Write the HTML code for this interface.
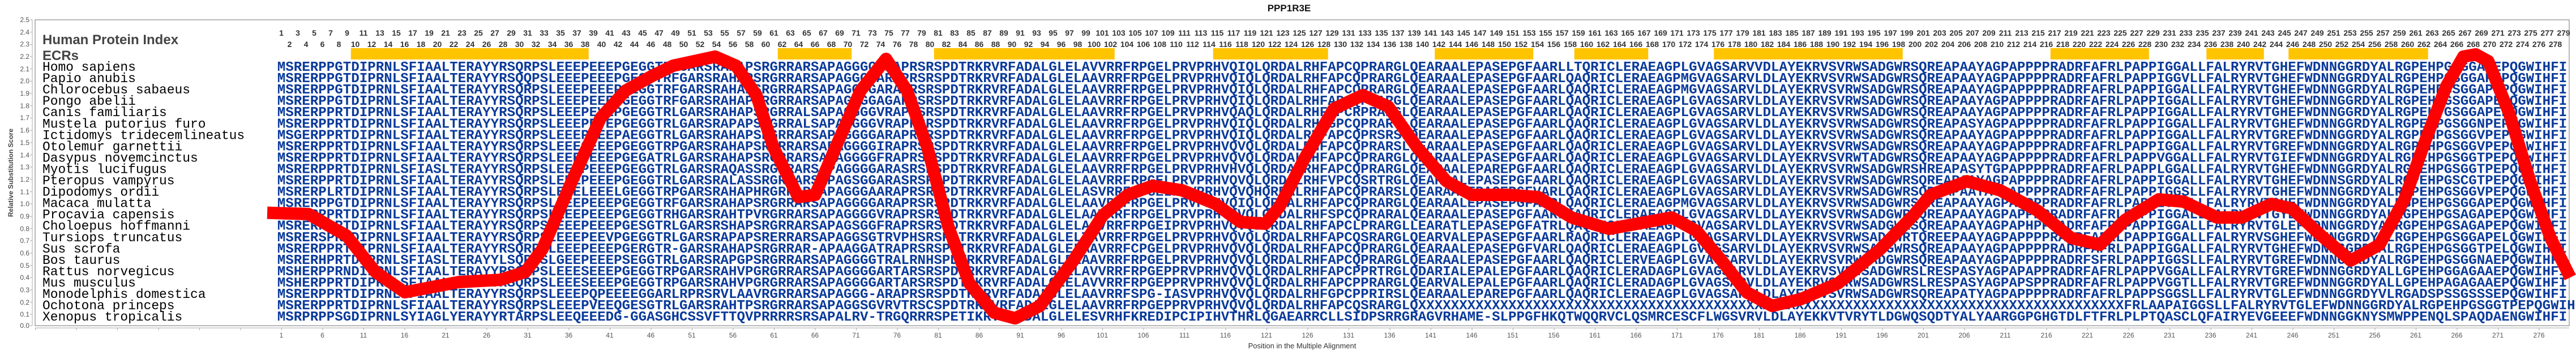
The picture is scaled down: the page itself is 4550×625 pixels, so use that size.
<!DOCTYPE html>
<html><head><meta charset="utf-8"><style>
html,body{margin:0;padding:0;background:#fff;}
#w{position:relative;width:4550px;height:625px;overflow:hidden;font-family:"Liberation Sans",sans-serif;}
.nr{position:absolute;white-space:nowrap;font-weight:bold;font-size:14px;color:#333;line-height:16px;}
.nr b{display:inline-block;width:29px;text-align:center;}
.bx{position:absolute;white-space:nowrap;font-size:12px;color:#555;top:585px;left:460.75px;line-height:14px;}
.bx b{display:inline-block;width:72.5px;text-align:center;font-weight:normal;}
.yl{position:absolute;left:20px;width:32px;text-align:right;font-size:12px;color:#555;line-height:14px;}
svg{position:absolute;left:0;top:0;}
</style></head><body><div id="w">
<svg width="4550" height="625" xmlns="http://www.w3.org/2000/svg">
<rect x="62" y="35" width="4476" height="540" fill="none" stroke="#888" stroke-width="1.2"/>
<line x1="57" y1="35" x2="57" y2="575" stroke="#aaa" stroke-width="1"/>
<g stroke="#aaa" stroke-width="1">
<line x1="53" y1="35" x2="57" y2="35"/><line x1="53" y1="56.7" x2="57" y2="56.7"/><line x1="53" y1="78.4" x2="57" y2="78.4"/><line x1="53" y1="100" x2="57" y2="100"/><line x1="53" y1="121.7" x2="57" y2="121.7"/><line x1="53" y1="143.4" x2="57" y2="143.4"/><line x1="53" y1="165" x2="57" y2="165"/><line x1="53" y1="186.8" x2="57" y2="186.8"/><line x1="53" y1="208.4" x2="57" y2="208.4"/><line x1="53" y1="230" x2="57" y2="230"/><line x1="53" y1="251.8" x2="57" y2="251.8"/><line x1="53" y1="273.5" x2="57" y2="273.5"/><line x1="53" y1="295" x2="57" y2="295"/><line x1="53" y1="316.8" x2="57" y2="316.8"/><line x1="53" y1="338.5" x2="57" y2="338.5"/><line x1="53" y1="360" x2="57" y2="360"/><line x1="53" y1="382" x2="57" y2="382"/><line x1="53" y1="403.5" x2="57" y2="403.5"/><line x1="53" y1="425" x2="57" y2="425"/><line x1="53" y1="447" x2="57" y2="447"/><line x1="53" y1="468.6" x2="57" y2="468.6"/><line x1="53" y1="490" x2="57" y2="490"/><line x1="53" y1="512" x2="57" y2="512"/><line x1="53" y1="533.6" x2="57" y2="533.6"/><line x1="53" y1="555" x2="57" y2="555"/><line x1="53" y1="575" x2="57" y2="575"/>
</g>
<line x1="62" y1="579" x2="4538" y2="579" stroke="#aaa" stroke-width="1"/>
<rect x="62" y="579" width="4476" height="4" fill="url(#tk)"/>
<defs><pattern id="tk" x="62" y="579" width="72.5" height="4" patternUnits="userSpaceOnUse"><rect x="0" y="0" width="1" height="4" fill="#aaa"/></pattern></defs>
<text x="2277" y="20" text-anchor="middle" font-family="Liberation Sans" font-weight="bold" font-size="17" fill="#111">PPP1R3E</text>
<text x="2300" y="615" text-anchor="middle" font-family="Liberation Sans" font-size="13" fill="#333">Position in the Multiple Alignment</text>
<text transform="translate(23,305) rotate(-90)" text-anchor="middle" font-family="Liberation Sans" font-weight="bold" font-size="12" fill="#444">Relative Substitution Score</text>
<text x="75" y="78" font-family="Liberation Sans" font-weight="bold" font-size="24" fill="#444">Human Protein Index</text>
<text x="75" y="106" font-family="Liberation Sans" font-weight="bold" font-size="24" fill="#444">ECRs</text>
<g fill="#ffc400">
<rect x="619.75" y="85" width="420" height="20"/>
<rect x="1373.75" y="85" width="130.5" height="20"/>
<rect x="1649.75" y="85" width="319" height="20"/>
<rect x="2142.75" y="85" width="203" height="20"/>
<rect x="2534.25" y="85" width="174" height="20"/>
<rect x="2780.75" y="85" width="130.5" height="20"/>
<rect x="3027.25" y="85" width="333.5" height="20"/>
<rect x="3621.75" y="85" width="174" height="20"/>
<rect x="3897.25" y="85" width="101.5" height="20"/>
<rect x="4042.25" y="85" width="246.5" height="20"/>
</g>
<g font-family="Liberation Mono" font-size="22.9" fill="#000">
<text x="75" y="125">Homo sapiens</text>
<text x="75" y="145.05">Papio anubis</text>
<text x="75" y="165.1">Chlorocebus sabaeus</text>
<text x="75" y="185.15">Pongo abelii</text>
<text x="75" y="205.2">Canis familiaris</text>
<text x="75" y="225.25">Mustela putorius furo</text>
<text x="75" y="245.3">Ictidomys tridecemlineatus</text>
<text x="75" y="265.35">Otolemur garnettii</text>
<text x="75" y="285.4">Dasypus novemcinctus</text>
<text x="75" y="305.45">Myotis lucifugus</text>
<text x="75" y="325.5">Pteropus vampyrus</text>
<text x="75" y="345.55">Dipodomys ordii</text>
<text x="75" y="365.6">Macaca mulatta</text>
<text x="75" y="385.65">Procavia capensis</text>
<text x="75" y="405.7">Choloepus hoffmanni</text>
<text x="75" y="425.75">Tursiops truncatus</text>
<text x="75" y="445.8">Sus scrofa</text>
<text x="75" y="465.85">Bos taurus</text>
<text x="75" y="485.9">Rattus norvegicus</text>
<text x="75" y="505.95">Mus musculus</text>
<text x="75" y="526">Monodelphis domestica</text>
<text x="75" y="546.05">Ochotona princeps</text>
<text x="75" y="566.1">Xenopus tropicalis</text>
</g>
<g font-family="Liberation Mono" font-weight="bold" font-size="24.17" fill="#0a3a9a">
<text x="489.75" y="125">MSRERPPGTDIPRNLSFIAALTERAYYRSQRPSLEEEPEEEPGEGGTRFGARSRAHAPSRGRRARSAPAGGGGARAPRSRSPDTRKRVRFADALGLELAVVRRFRPGELPRVPRHVQIQLQRDALRHFAPCQPRARGLQEARAALEPASEPGFAARLLTQRICLERAEAGPLGVAGSARVVDLAYEKRVSVRWSADGWRSQREAPAAYAGPAPPPPRADRFAFRLPAPPIGGALLFALRYRVTGHEFWDNNGGRDYALRGPEHPGSGGAPEPQGWIHFI</text>
<text x="489.75" y="145.05">MSRERPPGTDIPRNLSFIAALTERAYYRSQQPSLEEEPEEEPGEGGTRFGARSRAHAPSRGRRARSAPAGGGGARAPRSRSPDTRKRVRFADALGLELAAVRRFRPGELPRVPRHVQIQLQRDALRHFAPCQPRARGLQEARAALEPASEPGFAARLQAQRICLERAEAGPMGVAGSARVLDLAYEKRVSVRWSADGWRSQREAPAAYAGPAPPPPRADRFAFRLPAPPIGGVLLFALRYRVTGHEFWDNNGGRDYALRGPEHPGSGGAPEPQGWIHFI</text>
<text x="489.75" y="165.1">MSRERPPGTDIPRNLSFIAALTERAYYRSQRPSLEEEPEEEPGEGGTRFGARSRAHAPSRGRRARSAPAGGGGARAPRSRSPDTRKRVRFADALGLELAAVRRFRPGELPRVPRHVQIQLQRDALRHFAPCQPRARGLQEARAALEPASEPGFAARLQAQRICLERAEAGPMGVAGSARVLDLAYEKRVSVRWSADGWRSQREAPAAYAGPAPPPPRADRFAFRLPAPPIGGALLFALRYRVTGHEFWDNNGGRDYALRGPEHPGSGGAPEPQGWIHFI</text>
<text x="489.75" y="185.15">MSRERPPGTDIPRNLSFIAALTERAYYRSQRPSLEEEPEEEPGEGGTRFGARSRAHAPSRGRRARSAPAGGGGAGAPRSRSPDTRKRVRFADALGLELAAVRRFRPGELPRVPRHVQIQLQRDALRHFAPCQPRARGLQEARAALEPASEPGFAARLQAQRICLERAEAGPLGVAGSARVLDLAYEKRVSVRWSADGWRSQREAPAAYAGPAPPPPRADRFAFRLPAPPIGGALLFALRYRVTGHEFWDNNGGRDYALRGPEHPGSGGAPEPQGWIHFI</text>
<text x="489.75" y="205.2">MSRERPPRTDIPRNLSFIAALTERAYYRSQRPSLEEEPEVEPGEGGTRLGARSRAHAPSRGRRALSAPAGGGGVRAPRSRSPDTRKRVRFADALGLELAAVRRFRPGELPRVPRHVQAQLQRDALRHFAPCRPRARGLQEARAALEPASEPGFAARLQAQRICLERAEAGPLGVAGSARVLDLAYEKRVSVRWSADGWRSQREAPAAYAGPAPPPPRADRFAFRLPAPPIGGALLFALRYRVTGHEFWDNNGGRDYALRGPEHPGSGGAPEPQGWIHFI</text>
<text x="489.75" y="225.25">MSRERPPRTDIPRNLSFIAALTERAYYRSQRPSLEEEPEVEPGEGGTRLGARSRAPAPSRGRRALSAPAGGGGVRAPRSRSPDTRKRVRFADALGLELAAVRRFRPGELPRVPRHVQIQLQRDALRHFGPCQPRARGLQEARAALEPASEPGFAARLQAQRICLERAEAGPLGVAGSARVLDLAYEKRVSVRWSADGWRSQREAPASYAGPAPPPPRADRFAFRLPAPPIGGALLFALRYRVTGHEFWDNNGGRDYALRGPEHPGSGGNPEPQGWIHFI</text>
<text x="489.75" y="245.3">MSGERPPRTDIPRNLSFIAALTERAYYRSQRPSLEEEPEEEPAEGGTRLGARSRAHAPSRGRRARSAPAGGGGARAPRSRSPDTRKRVRFADALGLELAAVRRFRPGELPRVPRHVQIQLQRDALRHFAPCQPRSRSLQEARAALEPASEPGFAARLQAQRICLERAEAGPLGVAGSARVLDLAYEKRVSVRWSADGWRSQREAPAAYAGPAPPPPRADRFAFRLPAPPIGGALLFALRYRVTGREFWDNNGGRDYALRGPEHPGSGGVPEPQGWIHFI</text>
<text x="489.75" y="265.35">MSRERPPRTDIPRNLSFIAALTERAYYRSQRPSLEEEQEEEPGEGGTRPGARSRAHAPSRGRRARSAPAGGGGIRAPRSRSPDTRKRVRFADALGLELAAVRRFRPGELPRVPRHVQVQLQRDALRHFAPCQPRARSLQEARAALEPASEPGFAARLQAQRICLERAEAGPLGVAGSARVLDLAYEKRVSVRWSADGWRSQREAPAAYAGPAPPPPRADRFAFRLPAPPIGGALLFALRYRVTGREFWDNNGGRDYALRGPEHPGSGGVPEPQGWIHFI</text>
<text x="489.75" y="285.4">MSRERPPRTDIPRNLSFIAALTERAYYRSQRPSLEEEPEEEPGEGATRLGARSRAHAPSRGRRARSAPAGGGGFRAPRSRSPDTRKRVRFADALGLELAAVRRFRPGELPRVPRHVQVQLQRDALRHFAPCQPRARGLQEARAALEPASEPGFAARLQAQRICLERAEAGPLGVAGSARVLDLAYEKRVSVRWTADGWRSQREAPAAYAGPAPPPPRADRFAFRLPAPPVGGALLFALRYRVTGIEFWDNNGGRDYALRGPEHPGSGGTPEPQGWIHFI</text>
<text x="489.75" y="305.45">MSRERPPRTDIPRNLSFIASLTERAYYRSQRPSLEEEPEEEPGEGGTRLGARSRAQASSRGRRARSAPAGGGGARASRSRSPDTRKRVRFADALGLELAAVRRFRPGELPRVPRHVHVQLQRDALRHFAPCQPRARGLQEARAALEPAREPGFAARLQAQRICLERAEAGPLGVAGSARVLDLAYEKRVSVRWSADGWRSHREAPASYTGPAPPPPRADRFAFRLPAPPLGGALLFALRYRVTGHEFWDNNGGRDYALRGPEHPGSGGTPEPQGWIHFI</text>
<text x="489.75" y="325.5">MSRERPPRTDIPRNLSFIAALTERAYYRSQRPSLEEEPEEEPGEGGTRLGARSRALASSRGRRARSAPAGSGGARASRSRSPDTRKRVRFADALGLELAAVRRFRPGELPRVPRHVQVQLQRDALRHFVPCQSRTRGLQEARAALEPASEPGFAARLQAQRICLERAEAGPLGVAGSARVLDLAYEKRVSVRWSADGWRSQREAPAAYAGPAPPPPRADRFAFRLPAPPIGGALLFALRYRVTGHEFWDNNSGRDYALRGPEHPGSCGTPEPQGWIHFI</text>
<text x="489.75" y="345.55">MSRERPLRTDIPRNLSFIAALTERAYYRSQRPSLEEELEEELGEGGTRPGARSRAHAPHRGRRARSAPAGGGAARAPRSRSPDTRKRVRFADALGLELASVRRFRPGELPRVPRHVQVQHQRDALRHFAPCQPRARSLQEARAALEPACEPGFVARLQAQRICLERAEAGPLGVAGSARVLDLAYEKRVSVRWSADGWRSQREAPAAYAGPAPPPPRADRFAFRLPAPPIGGSLLFALRYRVTGHEFWDNNGGRDYALRGPEHPGSGGVPEPQGWIHFI</text>
<text x="489.75" y="365.6">MSRERPPGTDIPRNLSFIAALTERAYYRSQRPSLEEEPEEEPGEGGTRFGARSRAHAPSRGRRARSAPAGGGGARAPRSRSPDTRKRVRFADALGLELAAVRRFRPGELPRVPRHVQIQLQRDALRHFAPCQPRARGLQEARAALEPASEPGFAARLQAQRICLERAEAGPMGVAGSARVLDLAYEKRVSVRWSADGWRSQREAPAAYAGPAPPPPRADRFAFRLPAPPIGGALLFALRYRVTGHEFWDNNGGRDYALRGPEHPGSGGAPEPQGWIHFI</text>
<text x="489.75" y="385.65">MSRERPPRTDIPRNLSFIAALTERAYYRSQRPSLEEEPEEEPGEGGTRHGARSRAHTPVRGRRARSAPAGGGGVRAPRSRSPDTRKRVRFADALGLELAAVRRFRPGELPRVPRHVQVQLQRDALRHFSPCQPRARALQEARAALEPASEPGFAARLQAQRICLERAEAGPLGVAGSARVLDLAYEKRVSVRWSADGWRSQREAPAAYAGPAPPPPRADRFAFRLPAPPIGGALLFALRYRVTGYEFWDNNGGRDYALRGPEHPGSAGAPEPQGWIHFI</text>
<text x="489.75" y="405.7">MSRERPLRTDIPRNLSFIAALTERAYYRSQRPSLEEEPEEEPGESGTRLGARSRSHAPSRGRRARSAPAGSGGFRAPRSRSPDTRKRVRFADALGLELAAVRRFRPGEIPRVPRHVQVQLQRDALRHFAPCLPRARGLLEARATLEPASEPGFATRLQAQRICLERAEAGPLGVAGSARVLDLAYEKRVSVRWSADGWRSQREAPAAYAGPAPHPPRADRFAFRLPAPPIGGALLFALRYRVTGLEFWDNNGGRDYALRGPEHPGSAGAPEPQGWIHFI</text>
<text x="489.75" y="425.75">MSRERSPRTDIPRNLSFIAALTERAYYRSQRPSLEEEPEEVPGEGGTRLGARSRAPAPSRERRARSAPAGGSGTRVPHSRSPDTRKRVRFADALGLELTAVRRFRPGELPRVPRHVQVQLQRDALRHFAPCQSRARGLQEARVALEPASEPGFAARLRAQRICLERAEAGPLGVAGSARVLDLAYEKRVSVRWSADGWRTQREEPAAYAGPAPPPPRADRFAFRLPAPPIGGALLFALRYRVSGHEFWDNNGGRDYALRGPEHPGSGGAPELQGWIHFI</text>
<text x="489.75" y="445.8">MSRERPPRTDIPRNLSFIAALTERAYYRSQRPSLEEEPEEEPGERGTR-GARSRAHAPSRGRRAR-APAAGGATRAPRSRSPDTRKRVRFADALGLELAAVRRFCPGELPRVPRHVQVQLQRDALRHFAPCQPRARGLQEARAALEPASEPGFVARLQAQRICLERAEAGPLGVAGSARVLDLAYEKRVSVRWSADGWRSQREAPAAYAGPAPPPPRADRFAFRLPAPPIGGALLFALRYRVTGHEFWDNNGGRDYALRGPEHPGSGGTPELQGWIHFI</text>
<text x="489.75" y="465.85">MSRERHPRTDIPRNLSFIASLTERAYYLSQRPSLGEEPEEEPSEGGTRLGARSRAPGPSRGRRARSAPAGGGGTRALRNHSPDTRKRVRFADALGLELAAVRRFRPGELPRVPRHVQVQLQRDALRHFAPCQPRARGLQEARAALEPASEPGFAARLQAQRICLERVEAGPLGVAGSARVLDLAYEKRVSVRWSADGWRSQREAPAAYAGPAPPPPRADRFSFRLPAPPIGGSLLFALRYRVTGREFWDNNGGRDYALRGPEHPGSGGNAEPQGWIHFI</text>
<text x="489.75" y="485.9">MSHERPPRNDIPRNLSFIAALTERAYYRSQRPSLEEESEEEPGEGGTRPGARSRAHVPGRGRRARSAPAGGGGARTARSRSPDTRKRVRFADALGLELAVVRRFRPGEPPRVPRHVQVQLQRDALRHFAPCPPRTRGLQDARIALEPALEPGFAARLQAQRICLERADAGPLGVAGSARVLDLAYEKRVSVRWSADGWRSLRESPASYAGPAPAPPRADRFAFRLPAPPVGGALLFALRYRVTGREFWDNNGGRDYALLGPEHPGGAGAAEPQGWIHFI</text>
<text x="489.75" y="505.95">MSHERPPRTDIPRNLSFIAALTERAYYRSQRPSLEEESEEEPGEGGTRPGARSRAHVPGRGRRARSAPAGGGGARTARSRSPDTRKRVRFADALGLELAVVRRFRPGEPPRVPRHVQVQLQRDALRHFAPCPPRARGLQEARVALEPALEPGFAARLQAQRICLERADAGPLGVAGSARVLDLAYEKRVSVRWSADGWRSLRESPASYAGPAPSPPRADRFAFRLPAPPVGGTLLFALRYRVTGREFWDNNGGRDYALLGPEHPAGAGAAEPQGWIHFI</text>
<text x="489.75" y="526">MSRERPPRTDIPRNLSFIAALTERAYYRSQRPSLEEEPQPEEEEGGARLRPRSRVLAAVRGRRARSAPAGGG-ARAPRSRSPDTRKRVRFADALGLELAAVRRFSPG-IASVPRHVQVQLQRDALRHFGPCPPRIRSLQEARAALEPAREPGFAARLQAQRICLERAEAGPLGVAGSARVLDLAYEKRVSVRWSADGWRSQREAPATYAGPAPPPPRADRFAFRLPAPPSGGSLLFALRYRVTGLEFWDNNGGRDYVLRGADSPSSGSSSEPQGWIHFI</text>
<text x="489.75" y="546.05">MSRERPPRTDIPRNLSFIAALTERAYYRSQRPSLEEEPVEEQGESGTRLGARSRAHTPSRGRRARSAPAGGSGVRVTRSCSPDTRKRVRFADALGLELAAVRRFRPGEPPRVPRHVQVQLQRDALRHFAPCQSRARGLQXXXXXXXXXXXXXXXXXXXXXXXXXXXXXXXXXXXXXXXXXXXXXXXXXXXXXXXXXXXXXXXXXXXXXXXXXXXXXXXXXXXXXXFRLAAPAIGGSLLFALRYRVTGLEFWDNNGGRDYALRGPEHPGSGGTPEPQGWIHFI</text>
<text x="489.75" y="566.1">MSRPRPPSGDIPRNLSYIAGLYERAYYRTARPSLEEQEEEDG-GGASGHCSSVFTTQVPRRRRSRSAPALRV-TRGQRRRSPETIKRVRFADALGLELESVRHFKREDIPCIPIHVTHRLQGAEARRCLLSIDPSRRGRAGVRHAME-SLPPGFHKQTWQQRVCLQSMRCESCFLWGSVRVLDLAYEKKVTVRYTLDGWQSQDTYALYAARGGPGHGTDLFTFRLPLPTQASCLQFAIRYEVGEEEFWDNNGGKNYSMWPPENQLSPAQDAENGWIHFI</text>
</g>
<polyline fill="none" stroke="#ff0000" stroke-width="22" stroke-linejoin="round" stroke-linecap="square" points="483,376 545,378 612,416 663,480 715,516 810,498 884,494 928,480 958,440 1010,320 1061,208 1105,160 1150,135 1189,116 1263,100 1300,116 1336,168 1366,260 1410,348 1440,344 1476,260 1520,160 1565,104 1602,160 1638,260 1675,400 1712,500 1756,552 1793,562 1837,540 1896,460 1948,380 1992,344 2036,328 2088,336 2147,360 2191,392 2235,395 2260,365 2304,280 2356,192 2407,168 2452,188 2503,260 2555,320 2599,344 2665,344 2717,348 2776,384 2842,404 2908,392 2953,384 2997,408 3041,460 3085,516 3130,540 3181,528 3247,500 3321,440 3380,380 3410,344 3474,320 3533,336 3599,372 3658,420 3709,432 3754,388 3813,352 3857,356 3916,384 3960,384 4012,360 4048,368 4100,416 4152,460 4203,432 4247,352 4284,248 4321,152 4351,100 4373,96 4395,108 4432,200 4469,320 4505,420 4535,480"/>
</svg>
<div class="yl" style="top:28px">2.5</div><div class="yl" style="top:49.7px">2.4</div><div class="yl" style="top:71.4px">2.3</div><div class="yl" style="top:93px">2.2</div><div class="yl" style="top:114.7px">2.1</div><div class="yl" style="top:136.4px">2.0</div><div class="yl" style="top:158px">1.9</div><div class="yl" style="top:179.8px">1.8</div><div class="yl" style="top:201.4px">1.7</div><div class="yl" style="top:223px">1.6</div><div class="yl" style="top:244.8px">1.5</div><div class="yl" style="top:266.5px">1.4</div><div class="yl" style="top:288px">1.3</div><div class="yl" style="top:309.8px">1.2</div><div class="yl" style="top:331.5px">1.1</div><div class="yl" style="top:353px">1.0</div><div class="yl" style="top:375px">0.9</div><div class="yl" style="top:396.5px">0.8</div><div class="yl" style="top:418px">0.7</div><div class="yl" style="top:440px">0.6</div><div class="yl" style="top:461.6px">0.5</div><div class="yl" style="top:483px">0.4</div><div class="yl" style="top:505px">0.3</div><div class="yl" style="top:526.6px">0.2</div><div class="yl" style="top:548px">0.1</div><div class="yl" style="top:568px">0.0</div>
<div class="nr" style="left:482.5px;top:50px"><b>1</b><b>3</b><b>5</b><b>7</b><b>9</b><b>11</b><b>13</b><b>15</b><b>17</b><b>19</b><b>21</b><b>23</b><b>25</b><b>27</b><b>29</b><b>31</b><b>33</b><b>35</b><b>37</b><b>39</b><b>41</b><b>43</b><b>45</b><b>47</b><b>49</b><b>51</b><b>53</b><b>55</b><b>57</b><b>59</b><b>61</b><b>63</b><b>65</b><b>67</b><b>69</b><b>71</b><b>73</b><b>75</b><b>77</b><b>79</b><b>81</b><b>83</b><b>85</b><b>87</b><b>89</b><b>91</b><b>93</b><b>95</b><b>97</b><b>99</b><b>101</b><b>103</b><b>105</b><b>107</b><b>109</b><b>111</b><b>113</b><b>115</b><b>117</b><b>119</b><b>121</b><b>123</b><b>125</b><b>127</b><b>129</b><b>131</b><b>133</b><b>135</b><b>137</b><b>139</b><b>141</b><b>143</b><b>145</b><b>147</b><b>149</b><b>151</b><b>153</b><b>155</b><b>157</b><b>159</b><b>161</b><b>163</b><b>165</b><b>167</b><b>169</b><b>171</b><b>173</b><b>175</b><b>177</b><b>179</b><b>181</b><b>183</b><b>185</b><b>187</b><b>189</b><b>191</b><b>193</b><b>195</b><b>197</b><b>199</b><b>201</b><b>203</b><b>205</b><b>207</b><b>209</b><b>211</b><b>213</b><b>215</b><b>217</b><b>219</b><b>221</b><b>223</b><b>225</b><b>227</b><b>229</b><b>231</b><b>233</b><b>235</b><b>237</b><b>239</b><b>241</b><b>243</b><b>245</b><b>247</b><b>249</b><b>251</b><b>253</b><b>255</b><b>257</b><b>259</b><b>261</b><b>263</b><b>265</b><b>267</b><b>269</b><b>271</b><b>273</b><b>275</b><b>277</b><b>279</b></div>
<div class="nr" style="left:497px;top:70px"><b>2</b><b>4</b><b>6</b><b>8</b><b>10</b><b>12</b><b>14</b><b>16</b><b>18</b><b>20</b><b>22</b><b>24</b><b>26</b><b>28</b><b>30</b><b>32</b><b>34</b><b>36</b><b>38</b><b>40</b><b>42</b><b>44</b><b>46</b><b>48</b><b>50</b><b>52</b><b>54</b><b>56</b><b>58</b><b>60</b><b>62</b><b>64</b><b>66</b><b>68</b><b>70</b><b>72</b><b>74</b><b>76</b><b>78</b><b>80</b><b>82</b><b>84</b><b>86</b><b>88</b><b>90</b><b>92</b><b>94</b><b>96</b><b>98</b><b>100</b><b>102</b><b>104</b><b>106</b><b>108</b><b>110</b><b>112</b><b>114</b><b>116</b><b>118</b><b>120</b><b>122</b><b>124</b><b>126</b><b>128</b><b>130</b><b>132</b><b>134</b><b>136</b><b>138</b><b>140</b><b>142</b><b>144</b><b>146</b><b>148</b><b>150</b><b>152</b><b>154</b><b>156</b><b>158</b><b>160</b><b>162</b><b>164</b><b>166</b><b>168</b><b>170</b><b>172</b><b>174</b><b>176</b><b>178</b><b>180</b><b>182</b><b>184</b><b>186</b><b>188</b><b>190</b><b>192</b><b>194</b><b>196</b><b>198</b><b>200</b><b>202</b><b>204</b><b>206</b><b>208</b><b>210</b><b>212</b><b>214</b><b>216</b><b>218</b><b>220</b><b>222</b><b>224</b><b>226</b><b>228</b><b>230</b><b>232</b><b>234</b><b>236</b><b>238</b><b>240</b><b>242</b><b>244</b><b>246</b><b>248</b><b>250</b><b>252</b><b>254</b><b>256</b><b>258</b><b>260</b><b>262</b><b>264</b><b>266</b><b>268</b><b>270</b><b>272</b><b>274</b><b>276</b><b>278</b></div>
<div class="bx"><b>1</b><b>6</b><b>11</b><b>16</b><b>21</b><b>26</b><b>31</b><b>36</b><b>41</b><b>46</b><b>51</b><b>56</b><b>61</b><b>66</b><b>71</b><b>76</b><b>81</b><b>86</b><b>91</b><b>96</b><b>101</b><b>106</b><b>111</b><b>116</b><b>121</b><b>126</b><b>131</b><b>136</b><b>141</b><b>146</b><b>151</b><b>156</b><b>161</b><b>166</b><b>171</b><b>176</b><b>181</b><b>186</b><b>191</b><b>196</b><b>201</b><b>206</b><b>211</b><b>216</b><b>221</b><b>226</b><b>231</b><b>236</b><b>241</b><b>246</b><b>251</b><b>256</b><b>261</b><b>266</b><b>271</b><b>276</b></div>
</div></body></html>
